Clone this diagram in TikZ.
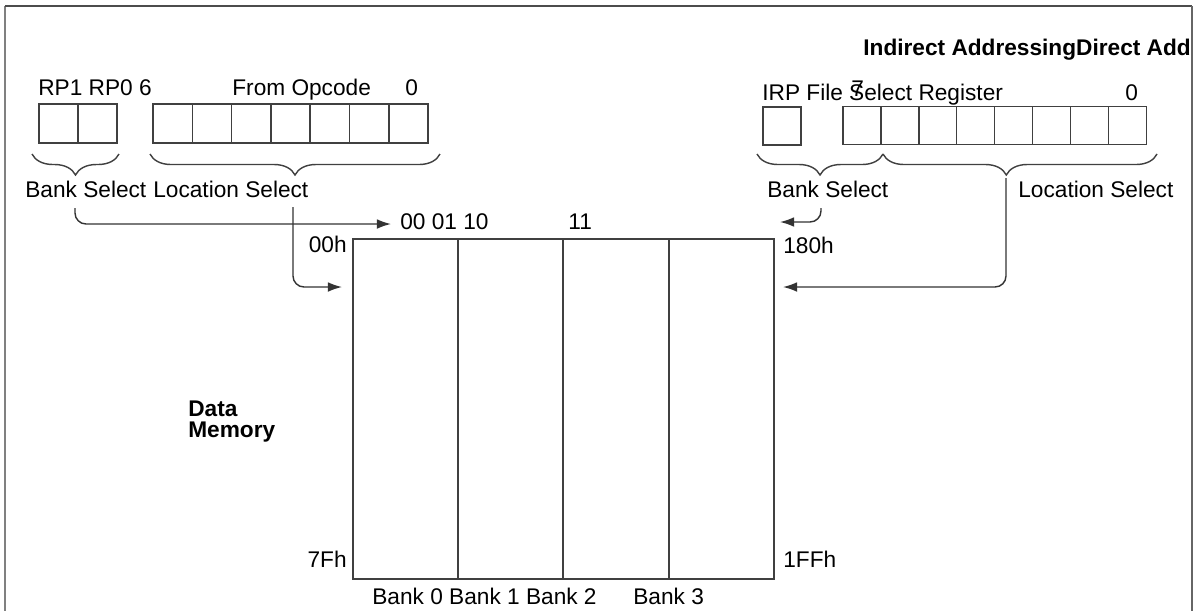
\documentclass[tikz,border=0pt]{standalone}
\usepackage{fontspec}
\setmainfont{Liberation Sans}
\usetikzlibrary{arrows.meta,decorations.pathreplacing}

\begin{document}
\begin{tikzpicture}[
    x=0.02cm, y=-0.02cm,
    font=\fontsize{12.9pt}{15pt}\selectfont,
    lbl/.style={inner sep=0pt, anchor=base west},
    hdr/.style={lbl, font=\fontsize{12.9pt}{15pt}\selectfont\bfseries},
    bit/.style={draw=black!75, line width=0.8pt, minimum width=0.786cm, minimum height=0.78cm, inner sep=0pt},
    rbit/.style={bit, minimum width=0.758cm, minimum height=0.76cm},
    field/.style={draw=black!75, line width=0.8pt, decorate, decoration={brace, mirror, amplitude=0.42cm}},
    arrow/.style={-{Latex[length=8pt,width=5.5pt]}, draw=black!80, line width=0.8pt, rounded corners=0.22cm}
]
\useasboundingbox (0,0) rectangle (1196,610);

% frame
\draw[black!50, line width=1.6pt] (5,620) -- (5,6);
\draw[black!70, line width=1.3pt] (5,6) -- (1192,6);
\draw[black!60, line width=1.4pt] (1192,6) -- (1192,620);

% direct addressing
\node[lbl] (rp) at (38,95) {RP1 RP0 6};
\node[lbl] (opc) at (232,95) {From Opcode};
\node[lbl] (d0) at (405,95) {0};
\node[bit] (rp1) at (58.5,123.5) {};
\node[bit] (rp0) at (97.5,123.5) {};
\foreach \i in {0,...,6}
  \node[bit] (op\i) at (172.65+39.3*\i,123.5) {};
\draw[field] (32,154) -- (119,154);
\draw[field] (150,154) -- (440,154);
\node[lbl] (dbs) at (25,197) {Bank Select};
\node[lbl] (dls) at (153,197) {Location Select};

% indirect addressing
\node[hdr] (ttl) at (863,55) {Indirect AddressingDirect Add};
\node[lbl] (irp) at (762,100) {IRP File Select Register};
\node[lbl] (i7) at (851,96) {7};
\node[lbl] (i0) at (1125,100) {0};
\node[rbit] (irpb) at (782,126) {};
\foreach \i in {0,...,7}
  \node[rbit] (fs\i) at (861.95+37.9*\i,125.5) {};
\draw[field] (757,154) -- (883,154);
\draw[field, decoration={aspect=0.45}] (883,154) -- (1157,154);
\node[lbl] (ibs) at (767,197) {Bank Select};
\node[lbl] (ils) at (1018,197) {Location Select};

% data memory
\node[draw=black!75, line width=0.8pt, minimum width=8.42cm, minimum height=6.8cm, inner sep=0pt] (mem) at (563.5,409) {};
\foreach \x in {458,563,669}
  \draw[black!75, line width=0.8pt] (\x,239) -- (\x,579);
\node[lbl, anchor=base east] (a00) at (347,252) {00h};
\node[lbl] (a180) at (783,253) {180h};
\node[lbl, anchor=base east] (a7f) at (347,567) {7Fh};
\node[lbl] (a1ff) at (783,567) {1FFh};
\node[lbl] (bsel) at (400,229) {00 01 10};
\node[lbl] (b11) at (568,229) {11};
\node[lbl] (bk) at (372,604) {Bank 0 Bank 1 Bank 2};
\node[lbl] (bk3) at (633,604) {Bank 3};
\node[hdr] (dm1) at (188,416) {Data};
\node[hdr] (dm2) at (188,437) {Memory};

% arrows
\coordinate (dbank) at (75,208);
\coordinate (dbankend) at (391,224);
\coordinate (dloc) at (293,207);
\coordinate (dlocend) at (342,287);
\coordinate (ibank) at (821,208);
\coordinate (ibankend) at (780,222);
\coordinate (iloc) at (1006,178);
\coordinate (ilocend) at (783,287);
\draw[arrow] (dbank) |- (dbankend);
\draw[arrow] (dloc) |- (dlocend);
\draw[arrow] (ibank) |- (ibankend);
\draw[arrow] (iloc) |- (ilocend);

\end{tikzpicture}
\end{document}
